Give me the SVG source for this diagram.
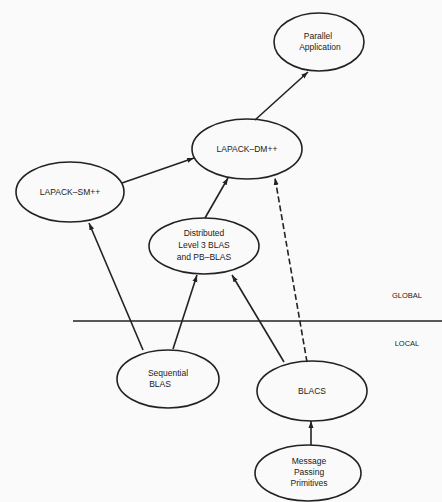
<svg xmlns="http://www.w3.org/2000/svg" width="442" height="502" viewBox="0 0 442 502">
<defs>
<style>
.n ellipse{fill:none;stroke:#222;stroke-width:1.6}
.t{font-family:"Liberation Sans",Arial,sans-serif;font-size:8.5px;fill:#1a1a1a;text-anchor:middle}
.c line{stroke:#222;stroke-width:1.6}
.d{stroke-dasharray:6 3}
</style>
<marker id="a" markerWidth="8" markerHeight="8" refX="7" refY="4" orient="auto" markerUnits="userSpaceOnUse">
<path d="M0,1.5 L7,4 L0,6.5 z" fill="#222"/>
</marker>
</defs>
<rect width="442" height="502" fill="#fafafa"/>
<g class="c" id="connectors">
<line x1="255" y1="120" x2="308" y2="72" marker-end="url(#a)"/>
<line x1="122" y1="183" x2="194" y2="158" marker-end="url(#a)"/>
<line x1="205" y1="218" x2="228" y2="178" marker-end="url(#a)"/>
<line x1="143" y1="350" x2="89" y2="223" marker-end="url(#a)"/>
<line x1="173" y1="349" x2="197" y2="275" marker-end="url(#a)"/>
<line x1="284" y1="362" x2="232" y2="275" marker-end="url(#a)"/>
<line class="d" x1="307" y1="362" x2="275" y2="178" marker-end="url(#a)"/>
<line x1="311" y1="445" x2="311" y2="421" marker-end="url(#a)"/>
<line x1="73" y1="321" x2="442" y2="321"/>
</g>
<g class="n" id="parallel"><ellipse cx="319" cy="42" rx="45" ry="29"/><text class="t" x="318" y="39">Parallel</text><text class="t" x="320" y="50">Application</text></g>
<g class="n" id="dm"><ellipse cx="247" cy="149" rx="55" ry="30"/><text class="t" x="247" y="152">LAPACK–DM++</text></g>
<g class="n" id="sm"><ellipse cx="70" cy="192" rx="54" ry="30"/><text class="t" x="70" y="195">LAPACK–SM++</text></g>
<g class="n" id="dist"><ellipse cx="204" cy="246" rx="55" ry="28"/><text class="t" x="204" y="236">Distributed</text><text class="t" x="204" y="248">Level 3 BLAS</text><text class="t" x="204" y="260">and PB–BLAS</text></g>
<g class="n" id="seq"><ellipse cx="168" cy="379" rx="51" ry="29"/><text class="t" x="168" y="376">Sequential</text><text class="t" x="160" y="387">BLAS</text></g>
<g class="n" id="blacs"><ellipse cx="312" cy="391" rx="55" ry="30"/><text class="t" x="312" y="394">BLACS</text></g>
<g class="n" id="mpp"><ellipse cx="308" cy="473" rx="53" ry="28"/><text class="t" x="309" y="464">Message</text><text class="t" x="309" y="475">Passing</text><text class="t" x="309" y="486">Primitives</text></g>
<text class="t" x="407" y="298" style="font-size:7.5px">GLOBAL</text>
<text class="t" x="407" y="346" style="font-size:7.5px">LOCAL</text>
</svg>
